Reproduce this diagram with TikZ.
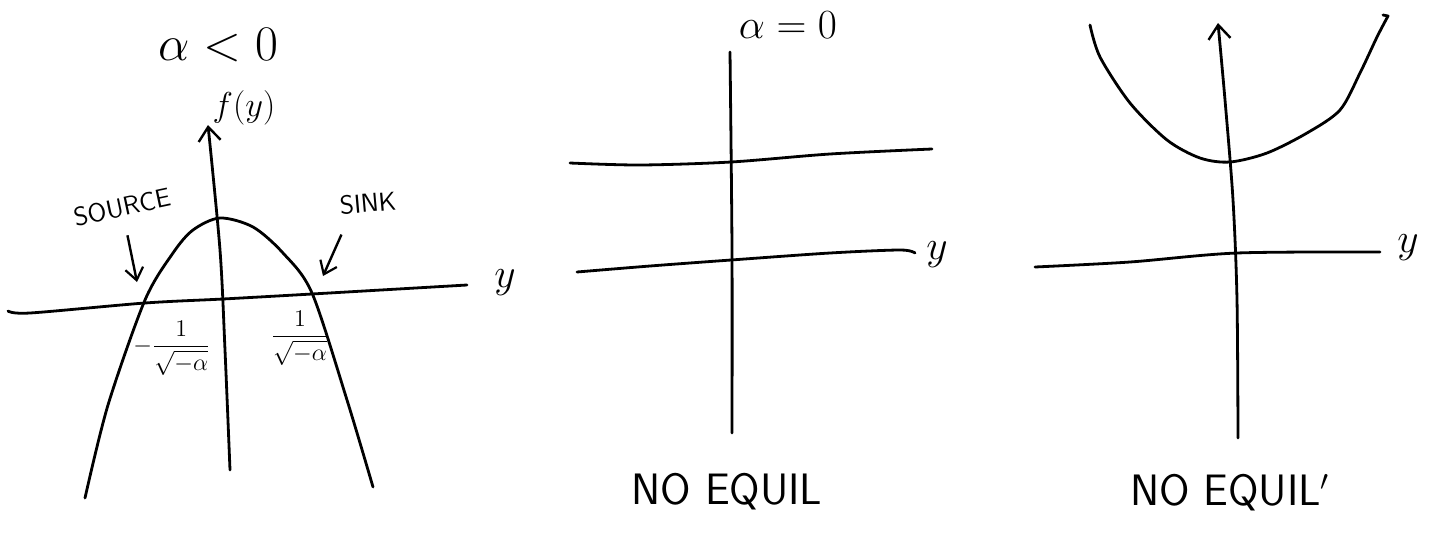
\documentclass[tikz,border=0pt]{standalone}
\usepackage{amsmath,amssymb}
\usepackage{tikz}
\usetikzlibrary{arrows.meta, positioning}

\tikzset{
    sketch/.style={line width=1.4pt, line cap=round, line join=round},
    axisarrow/.style={sketch, -{Straight Barb[length=7pt, width=11pt, line width=1.2pt]}},
    pointer/.style={line width=1.2pt, -{Straight Barb[length=6pt, width=9pt, line width=1.1pt]}},
    caption/.style={font=\sffamily\fontsize{22}{26}\selectfont},
    tag/.style={font=\sffamily\fontsize{13}{15}\selectfont},
    frac/.style={font=\fontsize{13}{16}\selectfont, inner sep=1pt},
}

\begin{document}
\begin{tikzpicture}[x=0.5pt, y=-0.5pt, >=Stealth]
    \useasboundingbox (0,0) rectangle (1434,552);
    \fill[white] (0,0) rectangle (1434,552);

    % alpha < 0
    \node[font=\fontsize{26}{30}\selectfont] (titleA) at (218,45) {$\alpha < 0$};
    \node[font=\fontsize{18}{22}\selectfont] (fy) at (244,108) {$f(y)$};
    \draw[axisarrow] plot[smooth] coordinates {(230,470) (225,350) (220,250) (208,125)};
    \draw[sketch] plot[smooth] coordinates {(8,311) (30,313) (145,303) (223,299) (312,294) (467,285)};
    \node[font=\fontsize{20}{24}\selectfont] (yA) at (505,283) {$y$};
    \draw[sketch] plot[smooth] coordinates {(85,498) (108,405) (145,300) (173,253)
        (193,230) (220,218) (253,227) (283,253) (312,293) (347,400) (373,487)};
    \coordinate (srcpt) at (141,298);
    \coordinate (sinkpt) at (318,288);
    \node[tag, rotate=12] (source) at (122,207) {SOURCE};
    \node[tag, rotate=5] (sink) at (368,203) {SINK};
    \draw[pointer] (source.south) ++(2,12) -- ([shift={(-4,-16)}]srcpt);
    \draw[pointer] (sink.south) ++(-28,15) -- ([shift={(5,-12)}]sinkpt);
    \node[frac] (rootL) at (172,348) {$-\dfrac{1}{\sqrt{-\alpha}}$};
    \node[frac] (rootR) at (300,338) {$\dfrac{1}{\sqrt{-\alpha}}$};

    % alpha = 0
    \node[font=\fontsize{20}{24}\selectfont] (titleB) at (788,25) {$\alpha = 0$};
    \draw[sketch] plot[smooth] coordinates {(730,52) (732,250) (732,433)};
    \draw[sketch] plot[smooth] coordinates {(570,163) (640,165) (731,162) (830,154) (932,149)};
    \draw[sketch] plot[smooth] coordinates {(577,272) (650,266) (731,260) (830,253) (900,250) (915,253)};
    \node[font=\fontsize{20}{24}\selectfont] (yB) at (937,255) {$y$};
    \node[caption] (capB) at (727,492) {NO EQUIL};

    % alpha > 0
    \draw[axisarrow] plot[smooth] coordinates {(1238,438) (1237,300) (1233,200) (1225,100) (1218,23)};
    \draw[sketch] plot[smooth] coordinates {(1035,267) (1130,262) (1237,253) (1380,252)};
    \node[font=\fontsize{20}{24}\selectfont] (yC) at (1408,248) {$y$};
    \draw[sketch] plot[smooth] coordinates {(1090,25) (1100,57) (1130,103) (1167,140) (1200,158)
        (1230,162) (1267,153) (1307,133) (1340,110) (1360,73) (1377,37) (1388,16)} -- (1383,15);
    \node[caption] (capC) at (1230,493) {NO EQUIL$'$};
\end{tikzpicture}
\end{document}
